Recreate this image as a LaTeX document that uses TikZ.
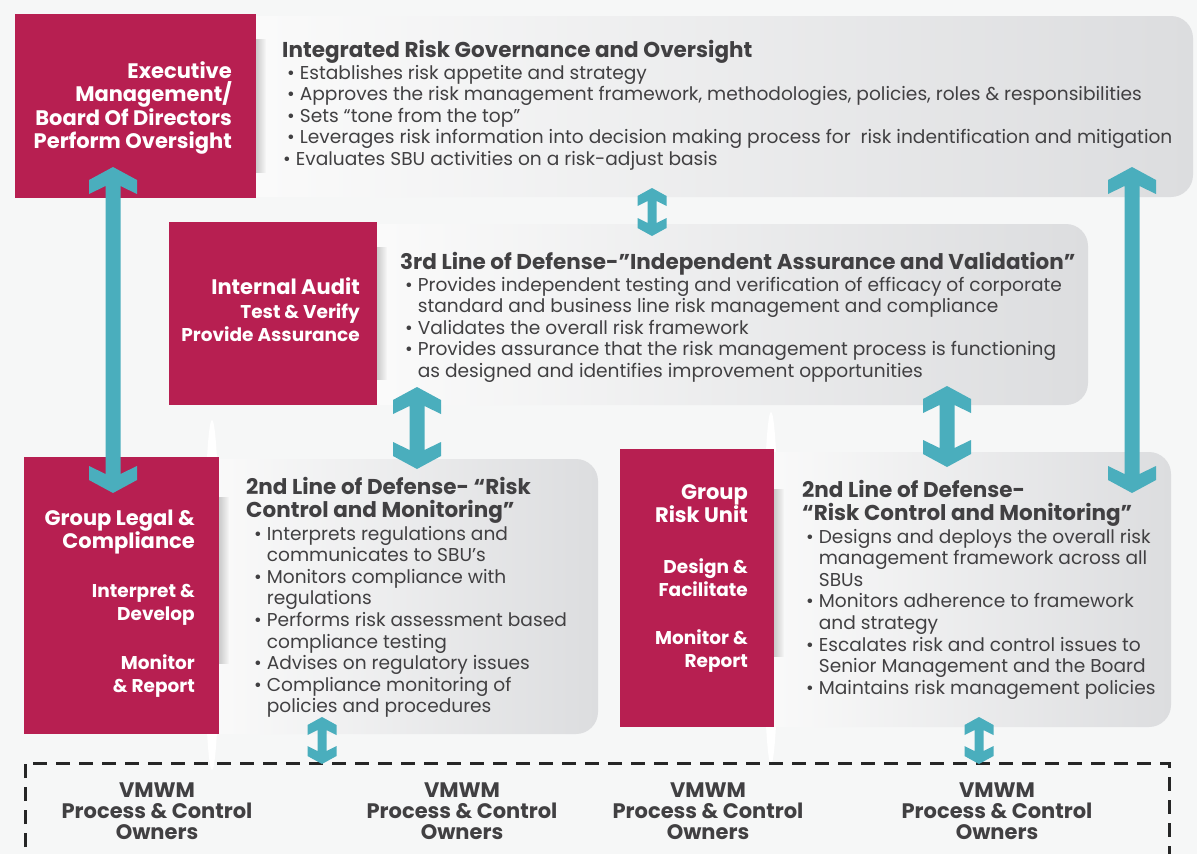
\documentclass[tikz,border=0pt]{standalone}
\usepackage{fontspec}
\setmainfont{Poppins}
\usetikzlibrary{calc, fadings}

\definecolor{wine}{HTML}{B71F51}
\definecolor{tealarrow}{HTML}{4AAEBD}
\definecolor{ink}{HTML}{414042}
\definecolor{paper}{HTML}{F6F7F7}
\definecolor{panelhi}{HTML}{FBFBFB}
\definecolor{panello}{HTML}{DCDDDF}

\tikzstyle{board} = [fill=wine, inner sep=0, anchor=north west]
\tikzstyle{panel} = [left color=panelhi, right color=panello, rounded corners=22pt]
\tikzstyle{heading} = [anchor=base west, inner sep=0, text=ink,
  font=\bfseries\fontsize{21.5}{23.5}\selectfont]
\tikzstyle{bullets} = [anchor=base west, inner sep=0, text=ink,
  font=\fontsize{18.6}{21.6}\selectfont]
\tikzstyle{boardname} = [anchor=base east, inner sep=0, text=white,
  font=\bfseries\fontsize{21}{23.5}\selectfont]
\tikzstyle{boardrole} = [anchor=base east, inner sep=0, text=white,
  font=\bfseries\fontsize{18.5}{23.5}\selectfont]
\tikzstyle{owners} = [anchor=base, inner sep=0, text=ink,
  font=\bfseries\fontsize{21}{21}\selectfont]
\tikzstyle{ownerline} = [draw=black!85, line width=3pt, dash pattern=on 14pt off 9pt]
\tikzstyle{shadow} = [fill=black, opacity=.18, path fading=east]

% bullet with hanging indent
\newcommand\riskitem[1]{\par\setbox0\hbox{\textbullet\ }\hangindent=\wd0\hangafter=1\relax\textbullet\ #1}
% two-way block arrow: top tip, bottom tip, half head, half shaft, tip depth, side, notch
\newcommand\updown[7]{%
  \fill[tealarrow] (#1) -- ($(#1)+(#3,#5)$) -- ($(#1)+(#3,#5+#6)$) -- ($(#1)+(#4,#7)$)
    -- ($(#2)+(#4,-#7)$) -- ($(#2)+(#3,-#5-#6)$) -- ($(#2)+(#3,-#5)$) -- (#2)
    -- ($(#2)+(-#3,-#5)$) -- ($(#2)+(-#3,-#5-#6)$) -- ($(#2)+(-#4,-#7)$)
    -- ($(#1)+(-#4,#7)$) -- ($(#1)+(-#3,#5+#6)$) -- ($(#1)+(-#3,#5)$) -- cycle;}
\newcommand\bigupdown[2]{\updown{#1}{#2}{24}{7.5}{13}{14}{19}}
\newcommand\smallupdown[2]{\updown{#1}{#2}{14.5}{4.5}{8}{10}{13}}

\begin{document}
\begin{tikzpicture}[x=1pt, y=-1pt]
    \clip (0,0) rectangle (1197,854);
    \fill[paper] (0,0) rectangle (1197,854);

    % light streaks behind the panels
    \fill[white] (212,595) ellipse [x radius=8, y radius=175];
    \fill[white] (771,588) ellipse [x radius=8, y radius=176];

    % grey panels
    \shade[panel] (230,16) rectangle (1193,197);
    \shade[panel] (360,224) rectangle (1088,405);
    \shade[panel] (200,459) rectangle (598,734);
    \shade[panel] (750,452) rectangle (1171,727);

    % red boards
    \node[board, minimum width=241pt, minimum height=184pt] (exec) at (15,14) {};
    \node[board, minimum width=208pt, minimum height=183pt] (audit) at (169,222) {};
    \node[board, minimum width=195pt, minimum height=277pt] (legal) at (24,457) {};
    \node[board, minimum width=154pt, minimum height=278pt] (riskunit) at (620,449) {};

    \fill[shadow] ($(exec.north east)+(0,25)$) rectangle ($(exec.south east)+(10,-25)$);
    \fill[shadow] ($(audit.north east)+(0,25)$) rectangle ($(audit.south east)+(10,-25)$);
    \fill[shadow] ($(legal.north east)+(0,40)$) rectangle ($(legal.south east)+(10,-70)$);
    \fill[shadow] ($(riskunit.north east)+(0,40)$) rectangle ($(riskunit.south east)+(10,-70)$);

    % process owners
    \draw[ownerline] (25,870) -- (25,763) -- (1169,763) -- (1169,870);
    \foreach \x [count=\i] in {157,462,708,997}
        \node[owners] (owner\i) at (\x,797) {\parbox[t]{240pt}{\centering VMWM\\Process \& Control\\Owners}};

    % arrows
    \coordinate (exectip) at (113,167);
    \coordinate (legaltip) at (113,493);
    \coordinate (govtip) at (1132,167);
    \coordinate (unittip) at (1132,493);
    \coordinate (govbottom) at (652,188);
    \coordinate (audittop) at (652,236);
    \coordinate (auditleft) at (417,387);
    \coordinate (legaltop) at (417,469);
    \coordinate (auditright) at (947,386);
    \coordinate (unittop) at (947,467);
    \coordinate (legalbottom) at (322,717);
    \coordinate (ownerleft) at (322,764);
    \coordinate (unitbottom) at (979,717);
    \coordinate (ownerright) at (979,764);
    \bigupdown{exectip}{legaltip}
    \bigupdown{govtip}{unittip}
    \bigupdown{auditleft}{legaltop}
    \bigupdown{auditright}{unittop}
    \smallupdown{govbottom}{audittop}
    \smallupdown{legalbottom}{ownerleft}
    \smallupdown{unitbottom}{ownerright}

    % board labels
    \node[boardname] (execname) at (232,78) {\parbox[t]{240pt}{\raggedleft Executive\\Management/\\Board Of Directors\\Perform Oversight}};
    \node[boardname] (auditname) at (360,294) {Internal Audit};
    \node[boardrole] (auditrole) at (360,318) {\parbox[t]{200pt}{\raggedleft Test \& Verify\\Provide Assurance}};
    \node[boardname] (legalname) at (195,525) {\parbox[t]{190pt}{\raggedleft Group Legal \&\\Compliance}};
    \node[boardrole] (legalrole) at (195,597) {\parbox[t]{190pt}{\raggedleft Interpret \&\\Develop}};
    \node[boardrole] (legalreport) at (195,669) {\parbox[t]{190pt}{\raggedleft Monitor\\\& Report}};
    \node[boardname] (unitname) at (748,499) {\parbox[t]{150pt}{\raggedleft Group\\Risk Unit}};
    \node[boardrole] (unitrole) at (748,573) {\parbox[t]{150pt}{\raggedleft Design \&\\Facilitate}};
    \node[boardrole] (unitreport) at (748,644) {\parbox[t]{150pt}{\raggedleft Monitor \&\\Report}};

    % panel texts
    \node[heading] (govtitle) at (282,57) {Integrated Risk Governance and Oversight};
    \node[bullets] (govlist) at (287,79) {\parbox[t]{920pt}{%
        \riskitem{Establishes risk appetite and strategy}
        \riskitem{Approves the risk management framework, methodologies, policies, roles \& responsibilities}
        \riskitem{Sets “tone from the top”}
        \riskitem{Leverages risk information into decision making process for\ \ risk indentification and mitigation}
        \par\hspace*{-4pt}\textbullet\ Evaluates SBU activities on a risk-adjust basis}};

    \node[heading] (audittitle) at (400,269) {3rd Line of Defense-”Independent Assurance and Validation”};
    \node[bullets] (auditlist) at (405,291) {\parbox[t]{700pt}{%
        \riskitem{Provides independent testing and verification of efficacy of corporate\\standard and business line risk management and compliance}
        \riskitem{Validates the overall risk framework}
        \riskitem{Provides assurance that the risk management process is functioning\\as designed and identifies improvement opportunities}}};

    \node[heading] (legaltitle) at (246,494) {\parbox[t]{340pt}{2nd Line of Defense- “Risk\\Control and Monitoring”}};
    \node[bullets] (legallist) at (254,540) {\parbox[t]{340pt}{%
        \riskitem{Interprets regulations and\\communicates to SBU’s}
        \riskitem{Monitors compliance with\\regulations}
        \riskitem{Performs risk assessment based\\compliance testing}
        \riskitem{Advises on regulatory issues}
        \riskitem{Compliance monitoring of\\policies and procedures}}};

    \node[heading] (unittitle) at (802,497) {\parbox[t]{360pt}{2nd Line of Defense-\\“Risk Control and Monitoring”}};
    \node[bullets] (unitlist) at (806,543) {\parbox[t]{360pt}{%
        \riskitem{Designs and deploys the overall risk\\management framework across all\\SBUs}
        \riskitem{Monitors adherence to framework\\and strategy}
        \riskitem{Escalates risk and control issues to\\Senior Management and the Board}
        \riskitem{Maintains risk management policies}}};
\end{tikzpicture}
\end{document}
